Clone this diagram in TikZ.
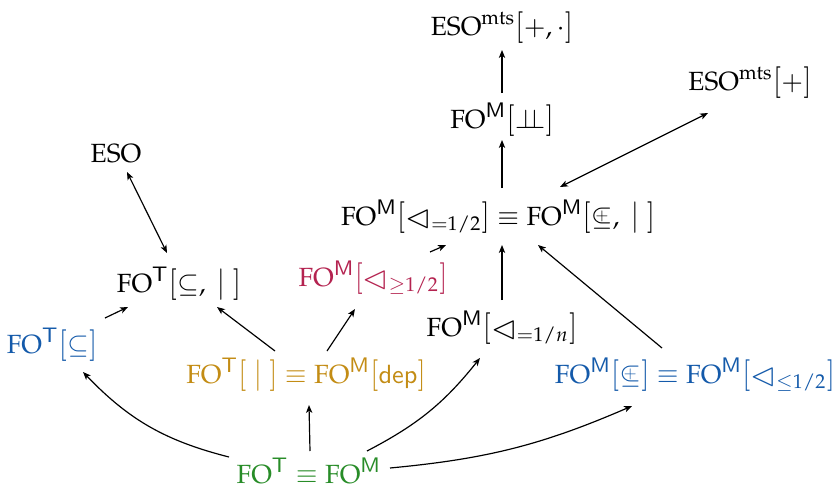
\documentclass[tikz,border=0pt]{standalone}
\usepackage{mathpazo}
\usepackage{amssymb}
\usetikzlibrary{arrows.meta,calc}
\definecolor{cgreen}{RGB}{40,140,40}
\definecolor{cblue}{RGB}{20,90,170}
\definecolor{cgold}{RGB}{195,140,20}
\definecolor{cred}{RGB}{180,35,80}
\newcommand{\incp}{\mathrel{\mbox{\ooalign{$\subseteq$\cr\hidewidth\raisebox{0.42ex}{$\scriptscriptstyle+$}\hidewidth\cr}}}}
\newcommand{\indepsym}{\mathrel{\perp\!\!\!\perp}}
\newcommand{\tri}{\mathrel{\raisebox{-0.2ex}{\scalebox{1.2}{$\vartriangleleft$}}}}
\newcommand{\lb}{\mathopen{\scalebox{1}[1.15]{$[$}}}
\newcommand{\rb}{\mathclose{\scalebox{1}[1.15]{$]$}}}
\newcommand{\vb}{\mathord{\scalebox{1}[1.15]{$|$}}}
\newcommand{\FO}{\mathrm{FO}}
\newcommand{\ESO}{\mathrm{ESO}}
\begin{document}
\begin{tikzpicture}[x=0.38pt,y=-0.38pt,
  lbl/.style={anchor=base,inner sep=0pt},
  arr/.style={-{Stealth[length=3pt,width=2.4pt,inset=0.8pt]},line width=0.45pt},
  darr/.style={{Stealth[length=3pt,width=2.4pt,inset=0.8pt]}-{Stealth[length=3pt,width=2.4pt,inset=0.8pt]},line width=0.45pt}]
\useasboundingbox (0,0) rectangle (835,488);
\node[lbl] (top) at (502,35) {$\ESO^{\mathrm{mts}}\lb+,\cdot\rb$};
\node[lbl] (esop) at (750,90) {$\ESO^{\mathrm{mts}}\lb+\rb$};
\node[lbl] (indep) at (502,128) {$\FO^{\mathsf{M}}\lb\indepsym\rb$};
\node[lbl] (eso) at (116,162) {$\ESO$};
\node[lbl] (eq) at (498,225) {$\FO^{\mathsf{M}}\lb\tri_{=1/2}\rb\equiv\FO^{\mathsf{M}}\lb\incp,\;\vb\;\rb$};
\node[lbl] (fotinc) at (179,292) {$\FO^{\mathsf{T}}\lb\subseteq,\;\vb\;\rb$};
\node[lbl,text=cred] (red) at (373,286) {$\FO^{\mathsf{M}}\lb\tri_{\geq 1/2}\rb$};
\node[lbl] (n) at (502,336) {$\FO^{\mathsf{M}}\lb\tri_{=1/n}\rb$};
\node[lbl,text=cblue] (fotsub) at (52,353) {$\FO^{\mathsf{T}}\lb\subseteq\rb$};
\node[lbl,text=cgold] (gold) at (306,383) {$\FO^{\mathsf{T}}\lb\;\vb\;\rb\equiv\FO^{\mathsf{M}}\lb\mathsf{dep}\rb$};
\node[lbl,text=cblue] (blue) at (695,383) {$\FO^{\mathsf{M}}\lb\incp\rb\equiv\FO^{\mathsf{M}}\lb\tri_{\leq 1/2}\rb$};
\node[lbl,text=cgreen] (green) at (309,483) {$\FO^{\mathsf{T}}\equiv\FO^{\mathsf{M}}$};

\draw[arr] ($(indep.base)+(0,-35)$) -- ($(top.base)+(0,15)$);
\draw[arr] ($(eq.base)+(4,-37)$) -- ($(indep.base)+(0,12)$);
\draw[darr] ($(esop.base)+(-42,23)$) -- ($(eq.base)+(62,-38)$);
\draw[darr] ($(eso.base)+(11,10)$) -- ($(fotinc.base)+(-12,-39)$);
\draw[arr] ($(fotsub.base)+(53,-35)$) -- ($(fotinc.base)+(-51,15)$);
\draw[arr] ($(gold.base)+(-31,-32)$) -- ($(fotinc.base)+(38,15)$);
\draw[arr] ($(gold.base)+(21,-32)$) -- ($(red.base)+(-18,23)$);
\draw[arr] ($(red.base)+(57,-34)$) -- ($(eq.base)+(-52,20)$);
\draw[arr] ($(n.base)+(0,-36)$) -- ($(eq.base)+(4,20)$);
\draw[arr] ($(blue.base)+(-33,-35)$) -- ($(eq.base)+(40,20)$);
\draw[arr] ($(green.base)+(-80,-26)$) to[bend left=16] ($(fotsub.base)+(31,19)$);
\draw[arr] ($(green.base)+(1,-32)$) -- ($(gold.base)+(3,22)$);
\draw[arr] ($(green.base)+(58,-32)$) to[bend right=12] ($(n.base)+(-22,22)$);
\draw[arr] ($(green.base)+(81,-15)$) to[bend right=9] ($(blue.base)+(-63,23)$);
\end{tikzpicture}
\end{document}
